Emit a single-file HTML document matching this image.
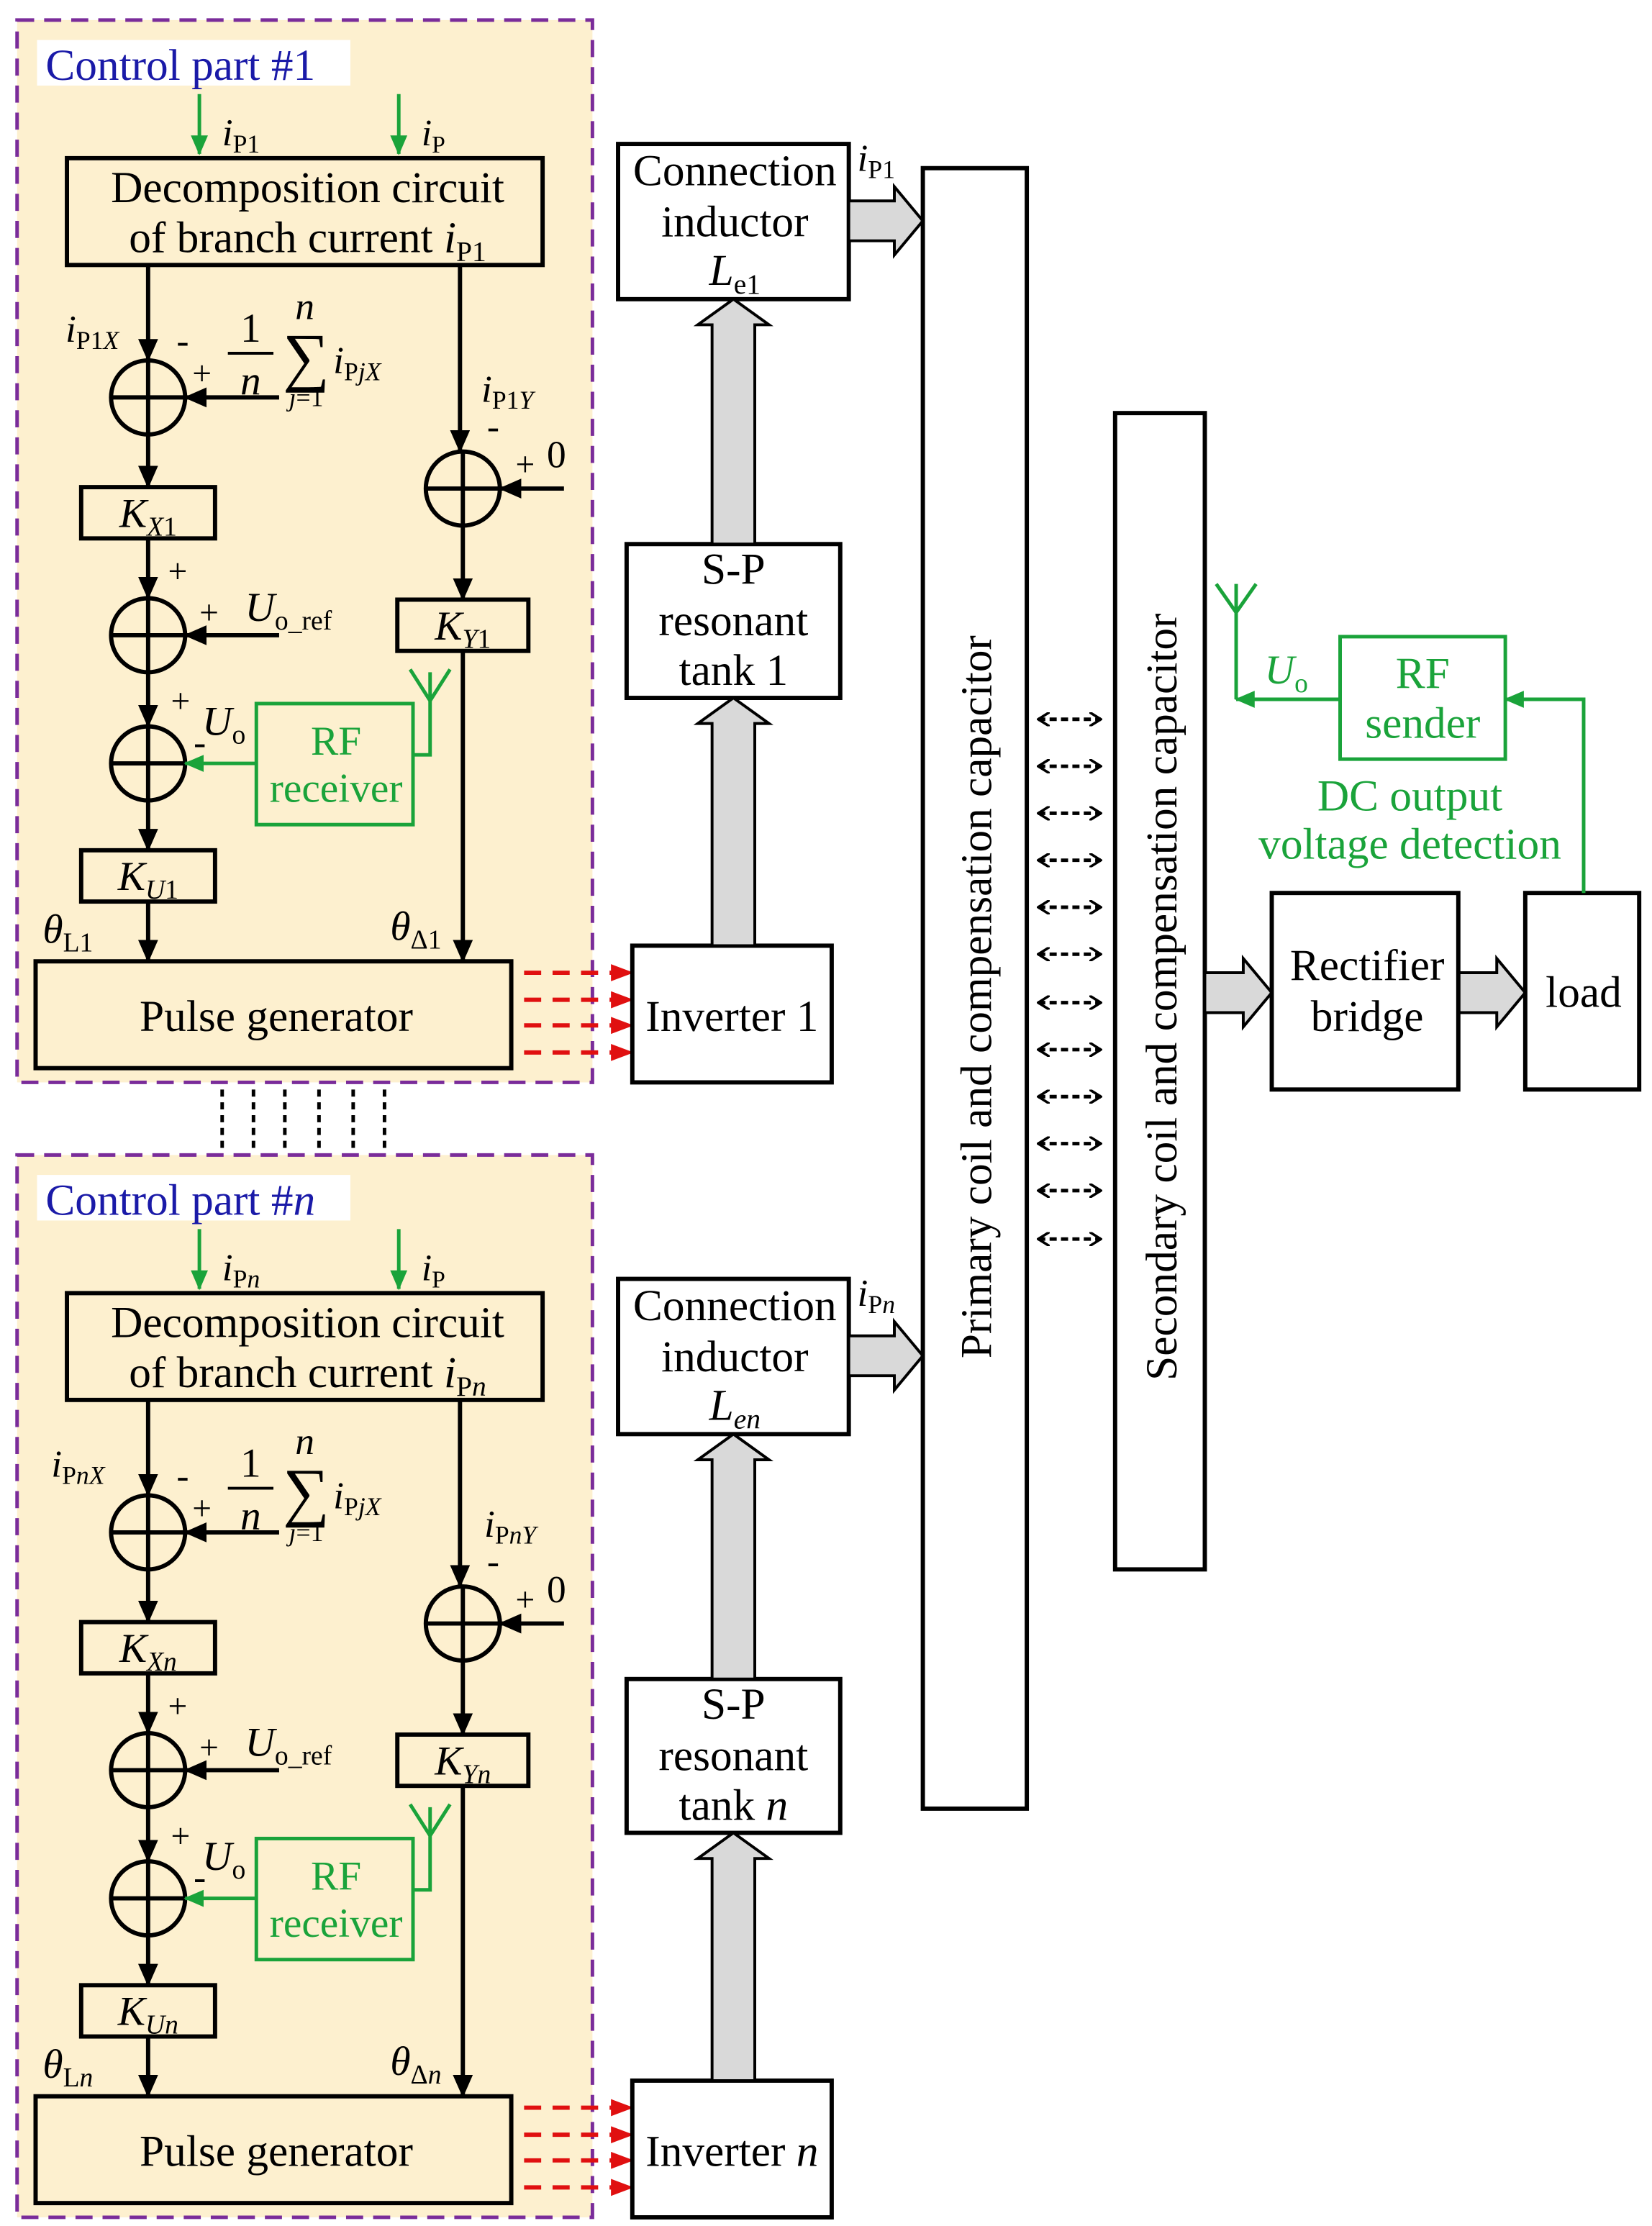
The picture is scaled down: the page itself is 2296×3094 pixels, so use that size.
<!DOCTYPE html>
<html><head><meta charset="utf-8"><style>
html,body{margin:0;padding:0;background:#fff}
svg{display:block}
svg, text, tspan{font-family:"Liberation Serif","Times New Roman",serif}
.g{fill:#1aa33a}
</style></head><body>
<svg width="2296" height="3094" viewBox="0 0 1160 1563" xmlns="http://www.w3.org/2000/svg" font-family="Liberation Serif, serif">
<defs>
<marker id="ab" markerWidth="10" markerHeight="10" refX="9" refY="5" orient="auto" markerUnits="userSpaceOnUse"><path d="M0,0 L10,5 L0,10 z" fill="#000"/></marker>
<marker id="ag" markerWidth="14" markerHeight="12" refX="13" refY="6" orient="auto" markerUnits="userSpaceOnUse"><path d="M0,0 L14,6 L0,12 z" fill="#1aa33a"/></marker>
<marker id="ar" markerWidth="16" markerHeight="12" refX="15" refY="6" orient="auto" markerUnits="userSpaceOnUse"><path d="M0,0 L16,6 L0,12 z" fill="#e01010"/></marker>
<marker id="ad" markerWidth="9" markerHeight="10" refX="8" refY="5" orient="auto-start-reverse" markerUnits="userSpaceOnUse"><path d="M0,0 L8,5 L0,10" fill="none" stroke="#000" stroke-width="1.8"/></marker>
<marker id="abk" markerWidth="16" markerHeight="14" refX="15" refY="7" orient="auto" markerUnits="userSpaceOnUse"><path d="M0,0 L16,7 L0,14 z" fill="#000"/></marker>
<g id="cp" font-family="Liberation Serif, serif">
<rect x="12" y="14" width="404" height="746" fill="#fdf0cf" stroke="#7a2c9a" stroke-width="2.5" stroke-dasharray="12,7"/>
<rect x="26" y="28" width="220" height="32" fill="#fff"/>
<line x1="140" y1="66" x2="140" y2="108" stroke="#1aa33a" stroke-width="2.5" marker-end="url(#ag)"/>
<line x1="280" y1="66" x2="280" y2="108" stroke="#1aa33a" stroke-width="2.5" marker-end="url(#ag)"/>
<text x="296" y="102" font-size="26" font-style="italic">i<tspan font-size="17" font-style="normal" dy="5">P</tspan></text>
<rect x="47" y="111" width="334" height="75" fill="none" stroke="#000" stroke-width="3"/>
<text x="216" y="142" font-size="31" text-anchor="middle">Decomposition circuit</text>
<g fill="none" stroke="#000" stroke-width="3">
<line x1="104" y1="186" x2="104" y2="253" marker-end="url(#abk)"/>
<circle cx="104" cy="279" r="26"/><path d="M78,279H130M104,253V305"/>
<line x1="196" y1="279" x2="130" y2="279" marker-end="url(#abk)"/>
<line x1="104" y1="305" x2="104" y2="342" marker-end="url(#abk)"/>
<rect x="57" y="342" width="94" height="36"/>
<line x1="104" y1="378" x2="104" y2="420" marker-end="url(#abk)"/>
<circle cx="104" cy="446" r="26"/><path d="M78,446H130M104,420V472"/>
<line x1="196" y1="446" x2="130" y2="446" marker-end="url(#abk)"/>
<line x1="104" y1="472" x2="104" y2="510" marker-end="url(#abk)"/>
<circle cx="104" cy="536" r="26"/><path d="M78,536H130M104,510V562"/>
<line x1="104" y1="562" x2="104" y2="597" marker-end="url(#abk)"/>
<rect x="57" y="597" width="94" height="36"/>
<line x1="104" y1="633" x2="104" y2="675" marker-end="url(#abk)"/>
<line x1="323" y1="186" x2="323" y2="317" marker-end="url(#abk)"/>
<circle cx="325" cy="343" r="26"/><path d="M299,343H351M325,317V369"/>
<line x1="396" y1="343" x2="351" y2="343" marker-end="url(#abk)"/>
<line x1="325" y1="369" x2="325" y2="421" marker-end="url(#abk)"/>
<rect x="279" y="421" width="92" height="36"/>
<line x1="325" y1="457" x2="325" y2="675" marker-end="url(#abk)"/>
<rect x="25" y="675" width="334" height="75"/>
<line x1="160" y1="248" x2="192" y2="248" stroke-width="2"/>
</g>
<g fill="none" stroke="#1aa33a" stroke-width="2.5">
<rect x="180" y="494" width="110" height="85"/>
<line x1="180" y1="536" x2="130" y2="536" marker-end="url(#ag)"/>
<path d="M290,530H302V472M288,470L302,492L316,470"/>
</g>
<text x="236" y="530" font-size="29" text-anchor="middle" class="g">RF</text>
<text x="236" y="563" font-size="29" text-anchor="middle" class="g">receiver</text>
<text x="124" y="248" font-size="26">-</text>
<text x="176" y="240" font-size="29" text-anchor="middle">1</text>
<text x="176" y="277" font-size="29" text-anchor="middle" font-style="italic">n</text>
<text x="214" y="224" font-size="27" text-anchor="middle" font-style="italic">n</text>
<text x="215" y="266" font-size="46" text-anchor="middle">∑</text>
<text x="215" y="285" font-size="18" text-anchor="middle"><tspan font-style="italic">j</tspan>=1</text>
<text x="234" y="262" font-size="27" font-style="italic">i<tspan font-size="18" dy="5"><tspan font-style="normal">P</tspan>jX</tspan></text>
<text x="135" y="270" font-size="24">+</text>
<text x="118" y="409" font-size="24">+</text>
<text x="140" y="438" font-size="24">+</text>
<text x="172" y="436" font-size="29" font-style="italic">U<tspan font-size="19" font-style="normal" dy="6">o_ref</tspan></text>
<text x="120" y="500" font-size="24">+</text>
<text x="142" y="516" font-size="29" font-style="italic">U<tspan font-size="19" font-style="normal" dy="6">o</tspan></text>
<text x="136" y="530" font-size="26">-</text>
<text x="342" y="308" font-size="26">-</text>
<text x="362" y="334" font-size="24">+</text>
<text x="384" y="328" font-size="27">0</text>
<text x="194" y="724" font-size="31" text-anchor="middle">Pulse generator</text>
<g stroke="#e01010" stroke-width="3" stroke-dasharray="12,8">
<line x1="368" y1="683" x2="444" y2="683" marker-end="url(#ar)"/>
<line x1="368" y1="702" x2="444" y2="702" marker-end="url(#ar)"/>
<line x1="368" y1="720" x2="444" y2="720" marker-end="url(#ar)"/>
<line x1="368" y1="739" x2="444" y2="739" marker-end="url(#ar)"/>
</g>
<rect x="444" y="664" width="140" height="96" fill="#fff" stroke="#000" stroke-width="3"/>
<rect x="434" y="101" width="162" height="109" fill="#fff" stroke="#000" stroke-width="3"/>
<text x="516" y="130" font-size="31" text-anchor="middle">Connection</text>
<text x="516" y="166" font-size="31" text-anchor="middle">inductor</text>
<rect x="440" y="382" width="150" height="108" fill="#fff" stroke="#000" stroke-width="3"/>
<text x="515" y="410" font-size="31" text-anchor="middle">S-P</text>
<text x="515" y="446" font-size="31" text-anchor="middle">resonant</text>
<g fill="#d9d9d9" stroke="#000" stroke-width="2">
<path d="M500,382V228H490L515,210L540,228H530V382Z"/>
<path d="M500,664V508H490L515,490L540,508H530V664Z"/>
<path d="M596,141H628V131L648,155L628,179V169H596Z"/>
</g>
</g>
</defs>
<use href="#cp"/>
<use href="#cp" transform="translate(0,797)"/>
<g font-family="Liberation Serif, serif">
<text x="32" y="56" font-size="31" style="fill:#1a1aa8">Control part #1</text>
<text x="156" y="102" font-size="27" font-style="italic">i<tspan font-size="18" font-style="normal" dy="5">P1</tspan></text>
<text x="216" y="177" font-size="31" text-anchor="middle">of branch current <tspan font-style="italic">i</tspan><tspan font-size="20" dy="6">P1</tspan></text>
<text x="46" y="240" font-size="27" font-style="italic">i<tspan font-size="18" dy="5"><tspan font-style="normal">P1</tspan>X</tspan></text>
<text x="104" y="370" font-size="29" text-anchor="middle" font-style="italic">K<tspan font-size="19" dy="6">X<tspan font-style="normal">1</tspan></tspan></text>
<text x="104" y="625" font-size="29" text-anchor="middle" font-style="italic">K<tspan font-size="19" dy="6">U<tspan font-style="normal">1</tspan></tspan></text>
<text x="325" y="449" font-size="29" text-anchor="middle" font-style="italic">K<tspan font-size="19" dy="6">Y<tspan font-style="normal">1</tspan></tspan></text>
<text x="338" y="282" font-size="27" font-style="italic">i<tspan font-size="18" dy="5"><tspan font-style="normal">P1</tspan>Y</tspan></text>
<text x="30" y="662" font-size="29" font-style="italic">θ<tspan font-size="19" font-style="normal" dy="6">L1</tspan></text>
<text x="274" y="660" font-size="29" font-style="italic">θ<tspan font-size="19" font-style="normal" dy="6">Δ1</tspan></text>
<text x="514" y="724" font-size="31" text-anchor="middle">Inverter 1</text>
<text x="516" y="200" font-size="31" text-anchor="middle" font-style="italic">L<tspan font-size="20" font-style="normal" dy="6">e1</tspan></text>
<text x="515" y="481" font-size="31" text-anchor="middle">tank 1</text>
<text x="602" y="120" font-size="27" font-style="italic">i<tspan font-size="18" font-style="normal" dy="5">P1</tspan></text>
<text x="32" y="853" font-size="31" style="fill:#1a1aa8">Control part #<tspan font-style="italic">n</tspan></text>
<text x="156" y="899" font-size="27" font-style="italic">i<tspan font-size="18" dy="5"><tspan font-style="normal">P</tspan>n</tspan></text>
<text x="216" y="974" font-size="31" text-anchor="middle">of branch current <tspan font-style="italic">i</tspan><tspan font-size="20" dy="6">P<tspan font-style="italic">n</tspan></tspan></text>
<text x="36" y="1037" font-size="27" font-style="italic">i<tspan font-size="18" dy="5"><tspan font-style="normal">P</tspan>nX</tspan></text>
<text x="104" y="1167" font-size="29" text-anchor="middle" font-style="italic">K<tspan font-size="19" dy="6">Xn</tspan></text>
<text x="104" y="1422" font-size="29" text-anchor="middle" font-style="italic">K<tspan font-size="19" dy="6">Un</tspan></text>
<text x="325" y="1246" font-size="29" text-anchor="middle" font-style="italic">K<tspan font-size="19" dy="6">Yn</tspan></text>
<text x="340" y="1079" font-size="27" font-style="italic">i<tspan font-size="18" dy="5"><tspan font-style="normal">P</tspan>nY</tspan></text>
<text x="30" y="1459" font-size="29" font-style="italic">θ<tspan font-size="19" font-style="normal" dy="6">L<tspan font-style="italic">n</tspan></tspan></text>
<text x="274" y="1457" font-size="29" font-style="italic">θ<tspan font-size="19" font-style="normal" dy="6">Δ<tspan font-style="italic">n</tspan></tspan></text>
<text x="514" y="1521" font-size="31" text-anchor="middle">Inverter <tspan font-style="italic">n</tspan></text>
<text x="516" y="997" font-size="31" text-anchor="middle" font-style="italic">L<tspan font-size="20" dy="6">en</tspan></text>
<text x="515" y="1278" font-size="31" text-anchor="middle">tank <tspan font-style="italic">n</tspan></text>
<text x="602" y="917" font-size="27" font-style="italic">i<tspan font-size="18" dy="5"><tspan font-style="normal">P</tspan>n</tspan></text>
</g>
<g stroke="#000" stroke-width="2.5" stroke-dasharray="5,4">
<line x1="156" y1="765" x2="156" y2="807"/><line x1="178" y1="765" x2="178" y2="807"/>
<line x1="200" y1="765" x2="200" y2="807"/><line x1="224" y1="765" x2="224" y2="807"/>
<line x1="248" y1="765" x2="248" y2="807"/><line x1="270" y1="765" x2="270" y2="807"/>
</g>
<rect x="648" y="118" width="73" height="1152" fill="#fff" stroke="#000" stroke-width="3"/>
<text transform="translate(696,700) rotate(-90)" font-size="31" text-anchor="middle" font-family="Liberation Serif, serif">Primary coil and compensation capacitor</text>
<rect x="783" y="290" width="63" height="812" fill="#fff" stroke="#000" stroke-width="3"/>
<text transform="translate(826,700) rotate(-90)" font-size="31" text-anchor="middle" font-family="Liberation Serif, serif">Secondary coil and compensation capacitor</text>
<g stroke="#000" stroke-width="2.5" stroke-dasharray="5,3">
<line x1="729" y1="505" x2="773" y2="505" marker-start="url(#ad)" marker-end="url(#ad)"/>
<line x1="729" y1="538" x2="773" y2="538" marker-start="url(#ad)" marker-end="url(#ad)"/>
<line x1="729" y1="571" x2="773" y2="571" marker-start="url(#ad)" marker-end="url(#ad)"/>
<line x1="729" y1="604" x2="773" y2="604" marker-start="url(#ad)" marker-end="url(#ad)"/>
<line x1="729" y1="637" x2="773" y2="637" marker-start="url(#ad)" marker-end="url(#ad)"/>
<line x1="729" y1="670" x2="773" y2="670" marker-start="url(#ad)" marker-end="url(#ad)"/>
<line x1="729" y1="704" x2="773" y2="704" marker-start="url(#ad)" marker-end="url(#ad)"/>
<line x1="729" y1="737" x2="773" y2="737" marker-start="url(#ad)" marker-end="url(#ad)"/>
<line x1="729" y1="770" x2="773" y2="770" marker-start="url(#ad)" marker-end="url(#ad)"/>
<line x1="729" y1="803" x2="773" y2="803" marker-start="url(#ad)" marker-end="url(#ad)"/>
<line x1="729" y1="836" x2="773" y2="836" marker-start="url(#ad)" marker-end="url(#ad)"/>
<line x1="729" y1="870" x2="773" y2="870" marker-start="url(#ad)" marker-end="url(#ad)"/>
</g>
<g fill="#d9d9d9" stroke="#000" stroke-width="2">
<path d="M846,683H873V673L893,697L873,721V711H846Z"/>
<path d="M1024,683H1051V673L1071,697L1051,721V711H1024Z"/>
</g>
<rect x="893" y="627" width="131" height="138" fill="#fff" stroke="#000" stroke-width="3"/>
<g font-family="Liberation Serif, serif">
<text x="960" y="688" font-size="31" text-anchor="middle">Rectifier</text>
<text x="960" y="724" font-size="31" text-anchor="middle">bridge</text>
</g>
<rect x="1071" y="627" width="80" height="138" fill="#fff" stroke="#000" stroke-width="3"/>
<text x="1112" y="707" font-size="31" text-anchor="middle" font-family="Liberation Serif, serif">load</text>
<g fill="none" stroke="#1aa33a" stroke-width="2.5">
<rect x="941" y="447" width="116" height="86"/>
<path d="M1112,627V491H1057" marker-end="url(#ag)"/>
<line x1="941" y1="491" x2="868" y2="491" marker-end="url(#ag)"/>
<path d="M868,491V410M854,410L868,430L882,410"/>
</g>
<g font-family="Liberation Serif, serif">
<text x="888" y="480" font-size="29" font-style="italic" class="g">U<tspan font-size="19" font-style="normal" dy="6">o</tspan></text>
<text x="999" y="483" font-size="31" text-anchor="middle" class="g">RF</text>
<text x="999" y="518" font-size="31" text-anchor="middle" class="g">sender</text>
<text x="990" y="569" font-size="31" text-anchor="middle" class="g">DC output</text>
<text x="990" y="603" font-size="31" text-anchor="middle" class="g">voltage detection</text>
</g>
</svg>
</body></html>
